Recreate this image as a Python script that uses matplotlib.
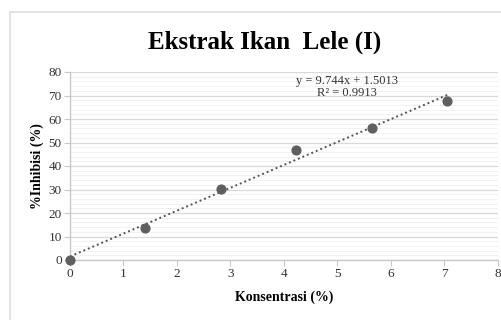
import matplotlib
matplotlib.use("Agg")
import matplotlib.pyplot as plt
from matplotlib.patches import Rectangle
import numpy as np

konsentrasi = [0, 1.41, 2.82, 4.23, 5.64, 7.05]
inhibisi = [0, 13.8, 30.2, 46.8, 56.1, 67.8]
slope, intercept = 9.744, 1.5013
title = "Ekstrak Ikan  Lele (I)"
xlabel = "Konsentrasi (%)"
ylabel = "%Inhibisi (%)"
eq_text = "y = 9.744x + 1.5013\nR\u00b2 = 0.9913"

plt.rcParams['font.family'] = ['Liberation Serif', 'DejaVu Serif']

W, H = 502, 320
fig = plt.figure(figsize=(W/100, H/100), dpi=100)
fig.patch.set_facecolor('white')
fig.patches.append(Rectangle((10/W, -0.1), 1.2, (H-12)/H + 0.1, transform=fig.transFigure,
                             fill=False, edgecolor='#dedede', linewidth=1.2))

ax = fig.add_axes([70/W, (H-260)/H, (498-70)/W, (260-72)/H])
ax.set_xlim(0, 8)
ax.set_ylim(0, 80)
ax.set_xticks(range(0, 9))
ax.set_yticks(range(0, 81, 10))
ax.set_yticks(np.arange(0, 81, 2), minor=True)
ax.grid(True, which='major', axis='y', color='#d9d9d9', linewidth=0.9)
ax.grid(True, which='minor', axis='y', color='#efefef', linewidth=0.6)
ax.set_axisbelow(True)
for s in ['top', 'right']:
    ax.spines[s].set_visible(False)
for s in ['left', 'bottom']:
    ax.spines[s].set_color('#c8c8c8')
    ax.spines[s].set_linewidth(1.0)
ax.tick_params(axis='x', which='major', length=4, color='#c8c8c8', labelsize=9.5, pad=2, labelcolor='#333333')
ax.tick_params(axis='y', which='major', length=4, color='#c8c8c8', labelsize=9.5, pad=2, labelcolor='#333333')
ax.tick_params(axis='y', which='minor', length=0)

xs = np.array([konsentrasi[0], konsentrasi[-1]])
ax.plot(xs, slope*xs + intercept, linestyle=(0, (1, 1.5)), color='#555555', linewidth=1.4, zorder=2)
ax.scatter(konsentrasi, inhibisi, s=40, color='#5f5f5f', zorder=3, clip_on=False)

ax.set_xlabel(xlabel, fontsize=10, fontweight='bold', labelpad=7)
ax.set_ylabel(ylabel, fontsize=10, fontweight='bold', labelpad=3)
ax.text(5.18, 78.8, eq_text, ha='center', va='top', fontsize=9, color='#333333', linespacing=1.0)

fig.text(265/W, 1 - 42/H, title, ha='center', va='center', fontsize=18, fontweight='bold')

fig.savefig("out.png", dpi=100)
